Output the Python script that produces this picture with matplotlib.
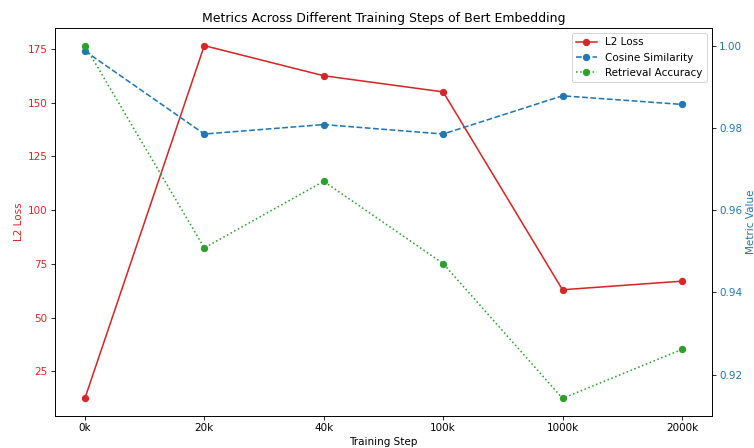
import matplotlib
matplotlib.use("Agg")
import matplotlib.pyplot as plt

steps = ["0k", "20k", "40k", "100k", "1000k", "2000k"]
l2_loss = [12.5, 176.5, 162.5, 155.0, 63.0, 67.0]
cosine_sim = [0.9987, 0.9785, 0.9808, 0.9785, 0.9878, 0.9857]
retrieval_acc = [1.0, 0.9508, 0.9670, 0.9470, 0.9142, 0.9261]

x = list(range(len(steps)))

fig, ax1 = plt.subplots(figsize=(754 / 75, 448 / 75), dpi=75)
fig.subplots_adjust(left=0.073, right=0.944, top=0.9375, bottom=0.0714)

l1, = ax1.plot(x, l2_loss, "o-", color="tab:red", label="L2 Loss")
ax1.set_ylabel("L2 Loss", color="tab:red")
ax1.tick_params(axis="y", labelcolor="tab:red")
ax1.set_xlabel("Training Step")
ax1.set_xticks(x)
ax1.set_xticklabels(steps)

ax2 = ax1.twinx()
l2, = ax2.plot(x, cosine_sim, "o--", color="tab:blue", label="Cosine Similarity")
l3, = ax2.plot(x, retrieval_acc, "o:", color="tab:green", label="Retrieval Accuracy")
ax2.set_ylabel("Metric Value", color="tab:blue")
ax2.tick_params(axis="y", labelcolor="tab:blue")

ax1.legend(handles=[l1, l2, l3], loc="upper right")
plt.title("Metrics Across Different Training Steps of Bert Embedding")

plt.savefig("out.png", dpi=75)
